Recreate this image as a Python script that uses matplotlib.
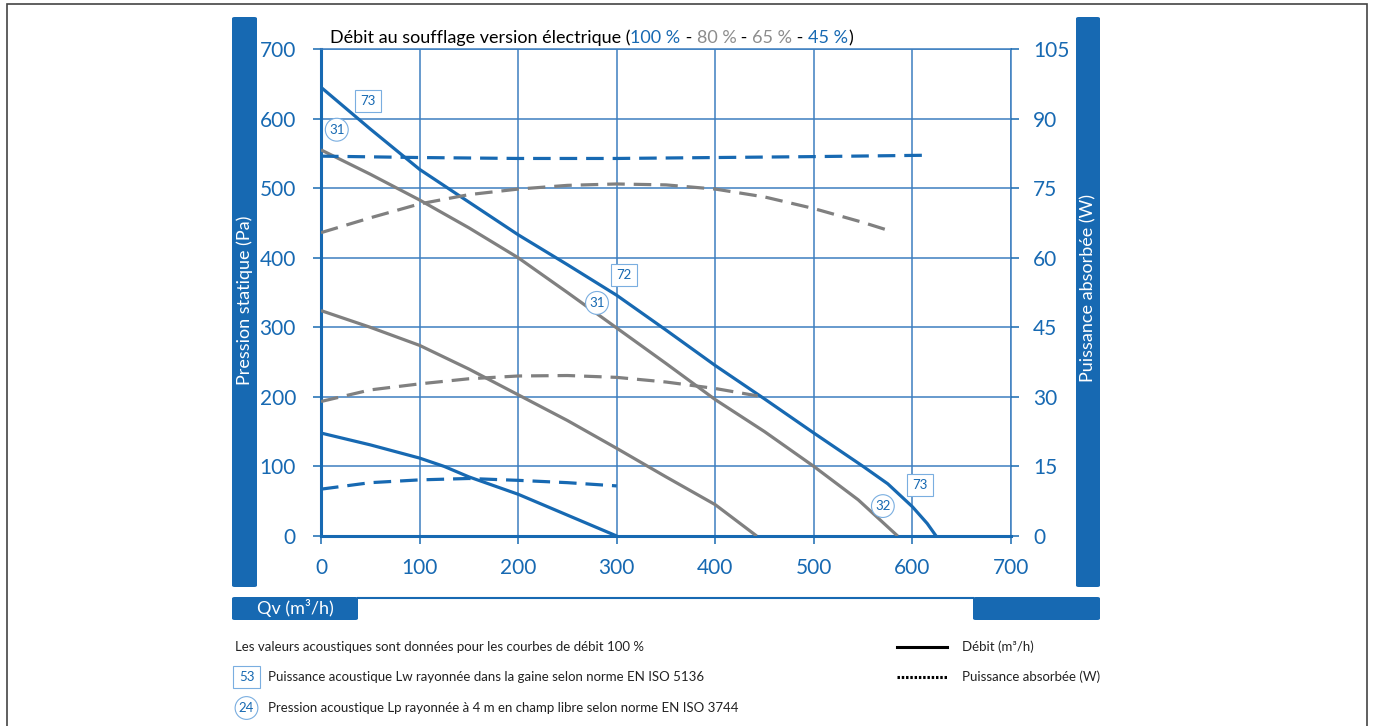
import matplotlib
matplotlib.use("Agg")
import matplotlib.pyplot as plt
from matplotlib.patches import Rectangle, FancyBboxPatch
from matplotlib.lines import Line2D

W, H = 1373, 726
BLUE = '#1769b2'
GRID = '#3d7fc0'
GRAY = '#808080'

plt.rcParams['font.family'] = ['Lato', 'DejaVu Sans']

# pressure curves (Pa) vs flow (m3/h)
q100 = [0, 50, 100, 150, 200, 250, 300, 350, 400, 450, 500, 550, 575, 600, 615, 624]
p100 = [645, 585, 527, 480, 433, 390, 346, 296, 245, 197, 148, 100, 75, 42, 18, 0]
q80 = [0, 50, 100, 150, 200, 250, 300, 350, 400, 450, 500, 545, 585]
p80 = [555, 520, 483, 443, 400, 350, 299, 248, 196, 150, 100, 52, 0]
q65 = [0, 50, 100, 150, 200, 250, 300, 350, 400, 442]
p65 = [324, 300, 274, 240, 203, 166, 126, 85, 45, 0]
q45 = [0, 50, 100, 125, 150, 200, 250, 300]
p45 = [148, 131, 112, 100, 85, 60, 30, 0]

# absorbed power curves (W)
wq100 = [0, 100, 200, 300, 400, 500, 617]
w100 = [81.9, 81.6, 81.4, 81.4, 81.6, 81.8, 82.1]
wq80 = [0, 50, 100, 150, 200, 250, 300, 350, 400, 450, 500, 550, 577]
w80 = [65.4, 68.6, 71.6, 73.6, 74.8, 75.6, 75.9, 75.7, 74.8, 73.1, 70.6, 67.6, 65.8]
wq65 = [0, 50, 100, 150, 200, 250, 300, 350, 400, 443]
w65 = [29.0, 31.5, 32.8, 33.9, 34.5, 34.6, 34.2, 33.2, 31.8, 30.2]
wq45 = [0, 50, 100, 150, 200, 250, 300]
w45 = [10.1, 11.5, 12.1, 12.4, 12.0, 11.5, 10.8]

# acoustic labels: (q, p, text, kind)
acoustic = [(48, 625, '73', 'sq'), (16, 584, '31', 'ci'),
            (307, 375, '72', 'sq'), (280, 335, '31', 'ci'),
            (608, 73, '73', 'sq'), (570, 43, '32', 'ci')]

xticks = list(range(0, 701, 100))
yticks = list(range(0, 701, 100))
wticks = list(range(0, 106, 15))


def fx(px):
    return px / W


def fy(py):
    return 1 - py / H


fig = plt.figure(figsize=(W / 100, H / 100), dpi=100)

# outer frame
fig.patches.append(Rectangle((fx(7), fy(740)), fx(1367) - fx(7), fy(4) - fy(740),
                             transform=fig.transFigure, fill=False, ec='#444444', lw=1.2))

# blue side bars
for x0, x1, y0, y1 in [(232, 257, 17, 587), (1076, 1100, 17, 587),
                       (232, 358, 597, 620), (973, 1100, 597, 620)]:
    fig.patches.append(FancyBboxPatch((fx(x0), fy(y1)), fx(x1) - fx(x0), fy(y0) - fy(y1),
                                      boxstyle='round,pad=0,rounding_size=0.002',
                                      transform=fig.transFigure, fc=BLUE, ec='none'))
fig.add_artist(Line2D([fx(358), fx(973)], [fy(597.5), fy(597.5)], color=BLUE, lw=1.5))

fig.text(fx(245), fy(300), 'Pression statique (Pa)', rotation=90, color='white',
         fontsize=13, ha='center', va='center')
fig.text(fx(1088), fy(288), 'Puissance absorbée (W)', rotation=90, color='white',
         fontsize=13, ha='center', va='center')
fig.text(fx(295), fy(608), 'Qv (m³/h)', color='white', fontsize=13, ha='center', va='center')

ax = fig.add_axes([fx(321), fy(536), fx(1011) - fx(321), fy(49) - fy(536)])
ax.set_xlim(0, 700)
ax.set_ylim(0, 700)
ax.set_xticks(xticks)
ax.set_yticks(yticks)
ax.grid(True, color=GRID, lw=1.1)
for s in ['top', 'right']:
    ax.spines[s].set_color(GRID)
    ax.spines[s].set_linewidth(1.1)
for s in ['left', 'bottom']:
    ax.spines[s].set_color(BLUE)
    ax.spines[s].set_linewidth(2.2)
ax.tick_params(colors=BLUE, labelsize=15, length=6, width=1.1, direction='out')
ax.tick_params(axis='y', pad=12)
ax.tick_params(axis='x', pad=10)

ax.plot(q100, p100, color=BLUE, lw=2.3, solid_capstyle='butt', zorder=4)
ax.plot(q80, p80, color=GRAY, lw=2.3, solid_capstyle='butt', zorder=4)
ax.plot(q65, p65, color=GRAY, lw=2.3, solid_capstyle='butt', zorder=4)
ax.plot(q45, p45, color=BLUE, lw=2.3, solid_capstyle='butt', zorder=4)

ax2 = ax.twinx()
ax2.set_ylim(0, 105)
ax2.set_yticks(wticks)
for s in ax2.spines.values():
    s.set_visible(False)
ax2.tick_params(colors=BLUE, labelsize=15, length=6, width=1.1, direction='out', pad=10)
dash = (0, (5.5, 2.8))
ax2.plot(wq100, w100, color=BLUE, lw=2.3, ls=dash, zorder=4)
ax2.plot(wq80, w80, color=GRAY, lw=2.3, ls=dash, zorder=4)
ax2.plot(wq65, w65, color=GRAY, lw=2.3, ls=dash, zorder=4)
ax2.plot(wq45, w45, color=BLUE, lw=2.3, ls=dash, zorder=4)

for q, p, t, kind in acoustic:
    bs = 'square,pad=0.4' if kind == 'sq' else 'circle,pad=0.28'
    ax2.text(q, p * 0.15, t, color=BLUE, fontsize=9.5, ha='center', va='center', zorder=6,
             bbox=dict(boxstyle=bs, fc='white', ec='#7aaee0', lw=0.8))

# title in several colours
parts = [('Débit au soufflage version électrique (', 'black'), ('100 %', BLUE), (' - ', 'black'),
         ('80 %', '#8c8c8c'), (' - ', 'black'), ('65 %', '#8c8c8c'), (' - ', 'black'),
         ('45 %', BLUE), (')', 'black')]
fig.canvas.draw()
r = fig.canvas.get_renderer()
x = 330
for s, c in parts:
    t = fig.text(fx(x), fy(38), s, color=c, fontsize=13, ha='left', va='center')
    x += t.get_window_extent(renderer=r).width

# legend block
fig.text(fx(235), fy(647), 'Les valeurs acoustiques sont données pour les courbes de débit 100 %',
         fontsize=9.5, color='#222222', va='center')
fig.text(fx(246.5), fy(677), '53', fontsize=9.5, color=BLUE, ha='center', va='center',
         bbox=dict(boxstyle='square,pad=0.4', fc='white', ec='#7aaee0', lw=0.8))
fig.text(fx(268), fy(677), 'Puissance acoustique Lw rayonnée dans la gaine selon norme EN ISO 5136',
         fontsize=9.5, color='#222222', va='center')
fig.text(fx(246.5), fy(708), '24', fontsize=9.5, color=BLUE, ha='center', va='center',
         bbox=dict(boxstyle='circle,pad=0.28', fc='white', ec='#7aaee0', lw=0.8))
fig.text(fx(268), fy(708), 'Pression acoustique Lp rayonnée à 4 m en champ libre selon norme EN ISO 3744',
         fontsize=9.5, color='#222222', va='center')
fig.add_artist(Line2D([fx(897), fx(947)], [fy(647), fy(647)], color='black', lw=2.2))
fig.add_artist(Line2D([fx(897), fx(947)], [fy(677), fy(677)], color='black', lw=2.2,
                      ls=(0, (0.8, 0.6))))
fig.text(fx(962), fy(647), 'Débit (m³/h)', fontsize=9.5, color='#222222', va='center')
fig.text(fx(962), fy(677), 'Puissance absorbée (W)', fontsize=9.5, color='#222222', va='center')

fig.savefig('out.png', dpi=100)
